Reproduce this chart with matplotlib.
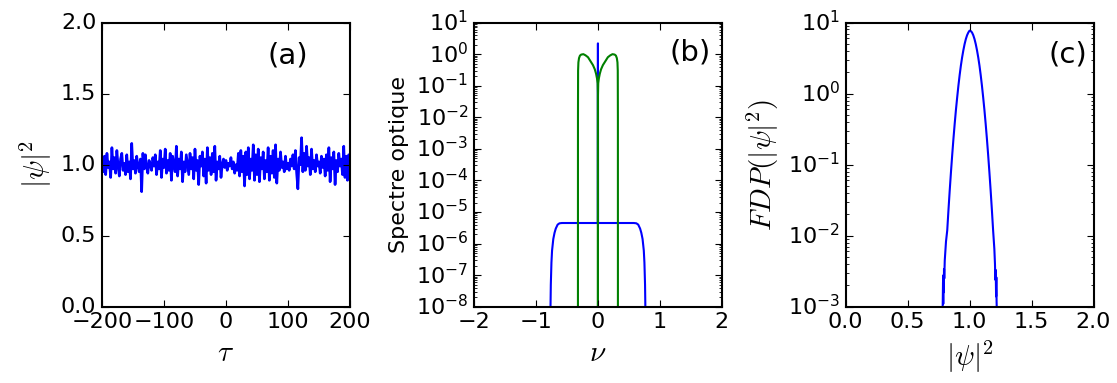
import matplotlib
matplotlib.use("Agg")
from matplotlib import pyplot as plt
from matplotlib.ticker import LogLocator, NullFormatter
import numpy as np

plt.style.use('classic')
plt.rcParams['figure.facecolor'] = 'white'
plt.rcParams['savefig.facecolor'] = 'white'
plt.rcParams['font.family'] = ['DejaVu Sans']
plt.rcParams['mathtext.fontset'] = 'cm'

# (a) intensite en fonction du temps, tau = -200 ... 200 (pas 2)
tau = np.arange(-200, 201, 2)
intensite = [
    1.03, 0.95, 1.06, 0.93, 1.08, 0.98, 1.02, 0.91, 1.12, 0.97,
    1.05, 0.94, 1.10, 0.99, 0.92, 1.04, 1.08, 0.96, 1.01, 0.93,
    1.07, 0.95, 1.02, 0.90, 1.15, 0.97, 1.03, 0.94, 1.06, 0.99,
    0.95, 1.04, 0.81, 1.08, 0.97, 1.07, 0.98, 0.94, 1.03, 1.00,
    0.96, 1.05, 0.99, 1.07, 0.93, 1.02, 0.97, 1.10, 0.91, 1.04,
    0.98, 1.11, 0.94, 1.03, 0.96, 1.08, 0.89, 1.06, 1.00, 0.95,
    1.13, 0.92, 1.04, 0.97, 1.09, 0.88, 1.02, 0.95, 1.07, 1.00,
    0.93, 1.08, 0.97, 1.05, 0.90, 1.11, 0.96, 1.03, 0.86, 1.06,
    0.99, 1.09, 0.92, 1.04, 0.87, 1.12, 0.96, 1.05, 0.93, 1.08,
    0.95, 1.13, 0.89, 1.02, 0.97, 1.06, 0.91, 1.00, 1.04, 0.98,
    1.03, 0.96, 1.01, 0.99, 1.05, 0.97, 1.02, 0.94, 1.00, 0.96,
    1.08, 0.92, 1.10, 0.95, 1.06, 0.85, 1.09, 0.93, 1.12, 0.90,
    1.04, 0.96, 1.14, 0.89, 1.07, 0.93, 1.11, 0.88, 1.05, 0.97,
    1.09, 0.90, 1.03, 0.95, 1.12, 0.89, 1.06, 0.94, 1.10, 0.91,
    1.14, 0.87, 1.04, 0.96, 1.09, 0.98, 1.02, 0.95, 1.06, 0.97,
    1.01, 0.96, 1.04, 0.99, 1.07, 0.97, 1.10, 0.94, 0.83, 1.05,
    1.00, 1.19, 0.95, 1.08, 0.96, 1.13, 0.99, 1.05, 0.93, 1.11,
    0.97, 1.03, 0.95, 1.07, 0.99, 1.02, 0.94, 1.06, 0.98, 1.04,
    0.92, 1.07, 0.96, 1.12, 0.88, 1.05, 0.97, 1.09, 0.86, 1.03,
    0.95, 1.08, 0.99, 1.04, 0.93, 1.13, 0.91, 1.06, 0.89, 1.07,
    1.00,
]

# (b) spectres
nu_vert = [-0.3225, -0.322, -0.32, -0.315, -0.305, -0.29, -0.27, -0.235, -0.2,
           -0.16, -0.12, -0.08, -0.05, -0.03, -0.015, -0.005, -0.001, 0.0,
           0.001, 0.005, 0.015, 0.03, 0.05, 0.08, 0.12, 0.16, 0.2, 0.235,
           0.27, 0.29, 0.305, 0.315, 0.32, 0.322, 0.3225]
spec_vert = [1e-9, 1e-2, 0.3, 0.55, 0.75, 0.9, 0.97, 1.0, 0.92,
             0.8, 0.6, 0.45, 0.33, 0.24, 0.17, 0.12, 0.05, 1e-9,
             0.05, 0.12, 0.17, 0.24, 0.33, 0.45, 0.6, 0.8, 0.92, 1.0,
             0.97, 0.9, 0.75, 0.55, 0.3, 1e-2, 1e-9]

nu_bleu = [-0.77, -0.765, -0.76, -0.75, -0.74, -0.72, -0.70, -0.68, -0.65,
           -0.62, -0.58, -0.3, -0.002, 0.0, 0.002, 0.3, 0.58, 0.62, 0.65,
           0.68, 0.70, 0.72, 0.74, 0.75, 0.76, 0.765, 0.77]
spec_bleu = [1e-10, 1e-8, 5e-8, 2.5e-7, 6e-7, 1.4e-6, 2.2e-6, 3.0e-6, 4.0e-6,
             4.4e-6, 4.5e-6, 4.5e-6, 4.5e-6, 2.2, 4.5e-6, 4.5e-6, 4.5e-6, 4.4e-6, 4.0e-6,
             3.0e-6, 2.2e-6, 1.4e-6, 6e-7, 2.5e-7, 5e-8, 1e-8, 1e-10]

# (c) densite de probabilite de |psi|^2
x_pdf = [0.782, 0.786, 0.788, 0.790, 0.792, 0.794, 0.796, 0.80, 0.81, 0.82,
         0.83, 0.84, 0.85, 0.86, 0.87, 0.88, 0.89, 0.90, 0.91, 0.92, 0.93,
         0.94, 0.95, 0.96, 0.97, 0.98, 0.99, 1.00, 1.01, 1.02, 1.03, 1.04,
         1.05, 1.06, 1.07, 1.08, 1.09, 1.10, 1.11, 1.12, 1.13, 1.14, 1.15,
         1.16, 1.17, 1.18, 1.19, 1.20, 1.205, 1.208, 1.211, 1.214, 1.216,
         1.218, 1.221]
pdf = [0.0007, 0.0022, 0.0011, 0.0028, 0.0016, 0.0034, 0.0025, 0.0045, 0.0083, 0.0119,
       0.0232, 0.0435, 0.0785, 0.137, 0.231, 0.375, 0.587, 0.88, 1.29, 1.82, 2.48,
       3.24, 4.08, 4.98, 5.86, 6.64, 7.25, 7.7, 7.6, 7.25, 6.64, 5.86,
       4.98, 4.08, 3.24, 2.48, 1.82, 1.29, 0.88, 0.587, 0.375, 0.231, 0.137,
       0.0785, 0.0435, 0.0232, 0.0119, 0.0065, 0.0040, 0.0024, 0.0033, 0.0014, 0.0026,
       0.0012, 0.0007]

fig = plt.figure(figsize=(11.17, 3.83), dpi=100)
w, h, b = 0.222, 0.742, 0.199
ax1 = fig.add_axes([0.0913, b, w, h])
ax2 = fig.add_axes([0.4243, b, w, h])
ax3 = fig.add_axes([0.757, b, w, h])

fs = 16

ax1.plot(tau, intensite, color='b', lw=1.9)
ax1.set_xlim(-200, 200)
ax1.set_ylim(0, 2)
ax1.set_xticks([-200, -100, 0, 100, 200])
ax1.set_yticks([0.0, 0.5, 1.0, 1.5, 2.0])
ax1.set_xlabel(r'$\tau$', fontsize=21)
ax1.set_ylabel(r'$|\psi|^2$', fontsize=21)
ax1.text(0.75, 0.885, '(a)', transform=ax1.transAxes, fontsize=21,
         ha='center', va='center')

ax2.plot(nu_bleu, spec_bleu, color='b', lw=1.5)
ax2.plot(nu_vert, spec_vert, color='g', lw=1.5)
ax2.set_yscale('log')
ax2.set_xlim(-2, 2)
ax2.set_ylim(1e-8, 1e1)
ax2.set_xticks([-2, -1, 0, 1, 2])
ax2.set_yticks([10.0 ** k for k in range(-8, 2)])
ax2.set_xlabel(r'$\nu$', fontsize=21)
ax2.set_ylabel('Spectre optique', fontsize=fs)
ax2.text(0.87, 0.894, '(b)', transform=ax2.transAxes, fontsize=21,
         ha='center', va='center')

ax3.plot(x_pdf, pdf, color='b', lw=1.5)
ax3.set_yscale('log')
ax3.set_xlim(0, 2)
ax3.set_ylim(1e-3, 1e1)
ax3.set_xticks([0.0, 0.5, 1.0, 1.5, 2.0])
ax3.set_yticks([1e-3, 1e-2, 1e-1, 1e0, 1e1])
ax3.set_xlabel(r'$|\psi|^2$', fontsize=21)
ax3.set_ylabel(r'$FDP(|\psi|^2)$', fontsize=21)
ax3.text(0.897, 0.887, '(c)', transform=ax3.transAxes, fontsize=21,
         ha='center', va='center')

for ax in (ax2, ax3):
    ax.yaxis.set_minor_locator(LogLocator(base=10, subs=np.arange(2, 10), numticks=100))
    ax.yaxis.set_minor_formatter(NullFormatter())

for ax in (ax1, ax2, ax3):
    ax.tick_params(which='major', labelsize=fs, direction='in', top=True,
                   right=True, length=5, width=0.8)
    ax.tick_params(which='minor', direction='in', top=True, right=True,
                   length=2.5, width=0.6)
    for s in ax.spines.values():
        s.set_linewidth(1.5)

fig.savefig("out.png", dpi=100)
